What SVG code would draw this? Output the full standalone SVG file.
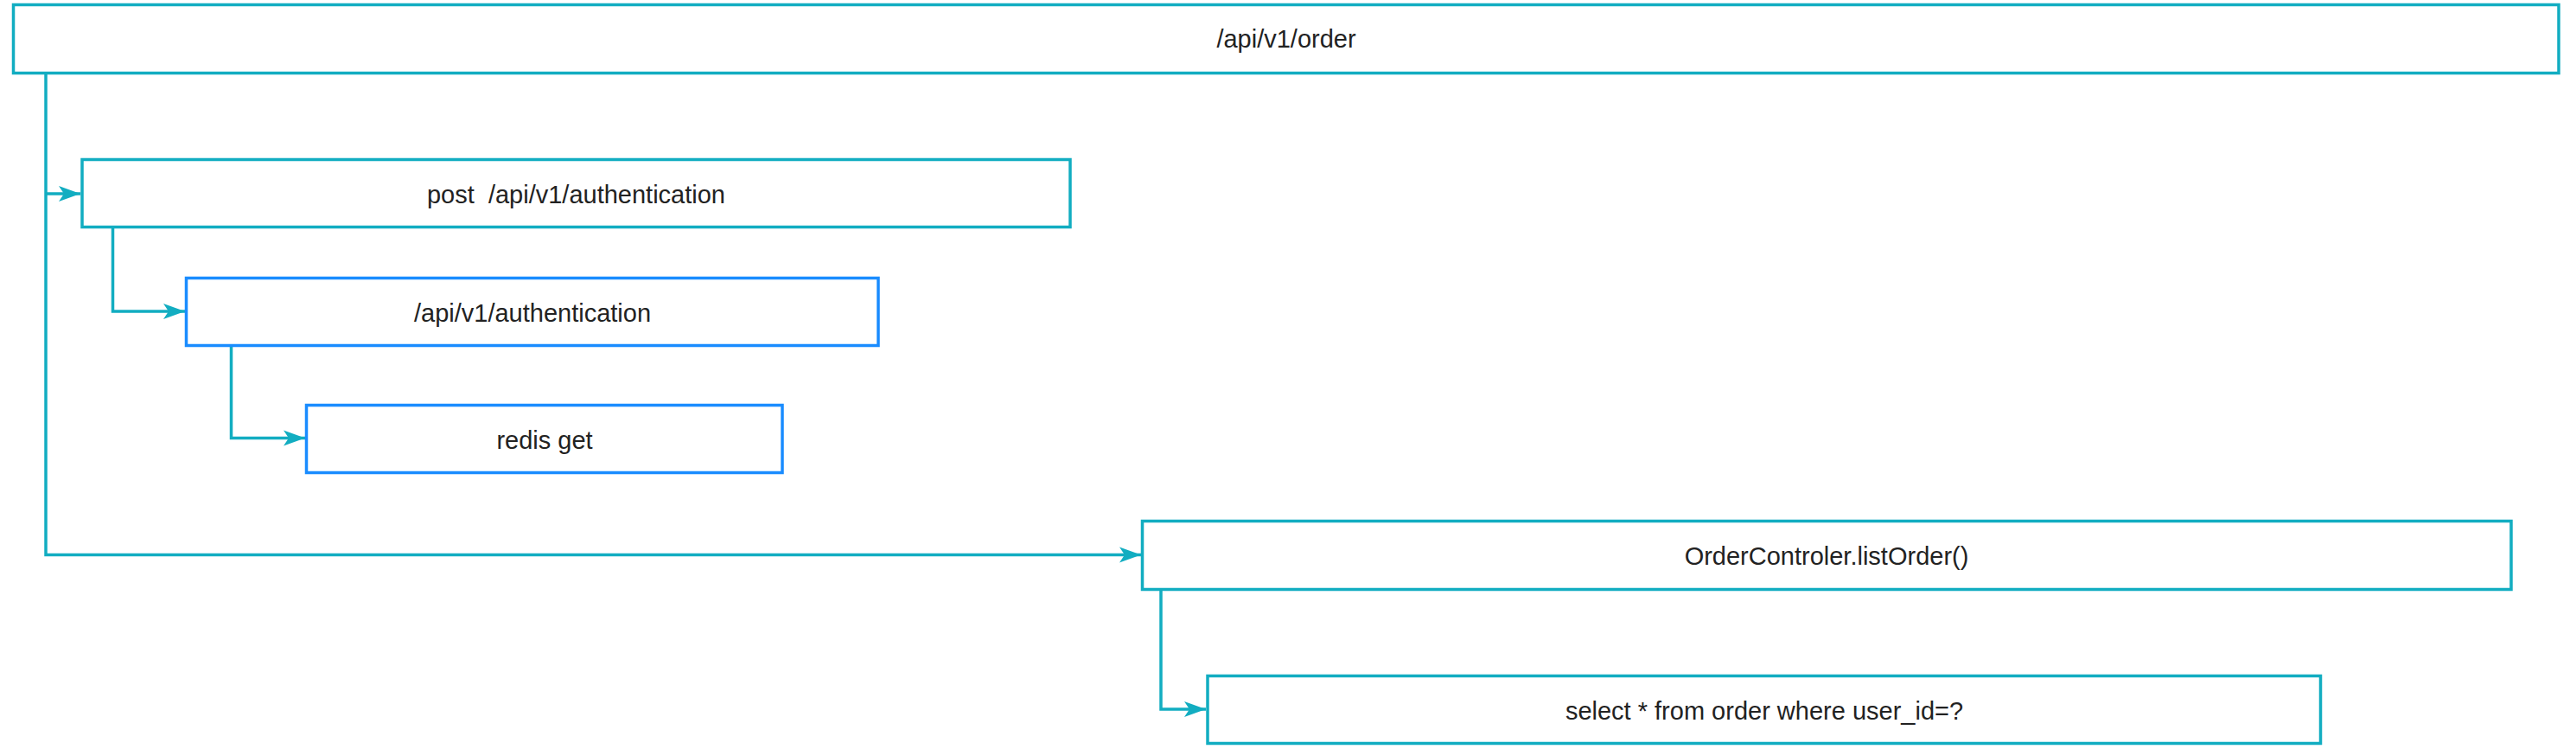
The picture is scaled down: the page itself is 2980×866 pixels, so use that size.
<svg xmlns="http://www.w3.org/2000/svg" width="2980" height="866" viewBox="0 0 2980 866">
<style>
.teal{fill:#ffffff;stroke:#12adc1;stroke-width:3.5}
.blue{fill:#ffffff;stroke:#1a8cff;stroke-width:3.5}
.lbl{font-family:"Liberation Sans",Arial,sans-serif;font-size:29px;fill:#222222;text-anchor:middle;white-space:pre}
.conn{fill:none;stroke:#12adc1;stroke-width:3.5}
</style>
<defs>
<marker id="arr" markerUnits="userSpaceOnUse" markerWidth="28" markerHeight="22" refX="25" refY="11" orient="auto">
<path d="M0,2 L25,11 L0,20 L6,11 Z" fill="#12adc1"/>
</marker>
</defs>
<rect width="2980" height="866" fill="#ffffff"/>
<g id="connectors">
<path class="conn" d="M53,86 V641.5 H1320" marker-end="url(#arr)"/>
<path class="conn" d="M53,224 H93" marker-end="url(#arr)"/>
<path class="conn" d="M130.5,264 V360 H214" marker-end="url(#arr)"/>
<path class="conn" d="M267.5,401 V506.5 H353" marker-end="url(#arr)"/>
<path class="conn" d="M1343,683 V820 H1395" marker-end="url(#arr)"/>
</g>
<g id="n-order">
<rect class="teal" x="15.5" y="5.5" width="2944.5" height="79"/>
<text class="lbl" x="1488" y="55">/api/v1/order</text>
</g>
<g id="n-post-auth">
<rect class="teal" x="95" y="184.5" width="1143" height="78"/>
<text class="lbl" x="666.5" y="235" xml:space="preserve">post  /api/v1/authentication</text>
</g>
<g id="n-auth">
<rect class="blue" x="215.5" y="321.5" width="800.5" height="78"/>
<text class="lbl" x="616" y="372">/api/v1/authentication</text>
</g>
<g id="n-redis">
<rect class="blue" x="354.5" y="468.5" width="550.5" height="78"/>
<text class="lbl" x="630" y="519">redis get</text>
</g>
<g id="n-ordercontroler">
<rect class="teal" x="1321.5" y="602.5" width="1583.5" height="79"/>
<text class="lbl" x="2113" y="653">OrderControler.listOrder()</text>
</g>
<g id="n-select">
<rect class="teal" x="1397" y="781.5" width="1287.5" height="78"/>
<text class="lbl" x="2041" y="832">select * from order where user_id=?</text>
</g>
</svg>
